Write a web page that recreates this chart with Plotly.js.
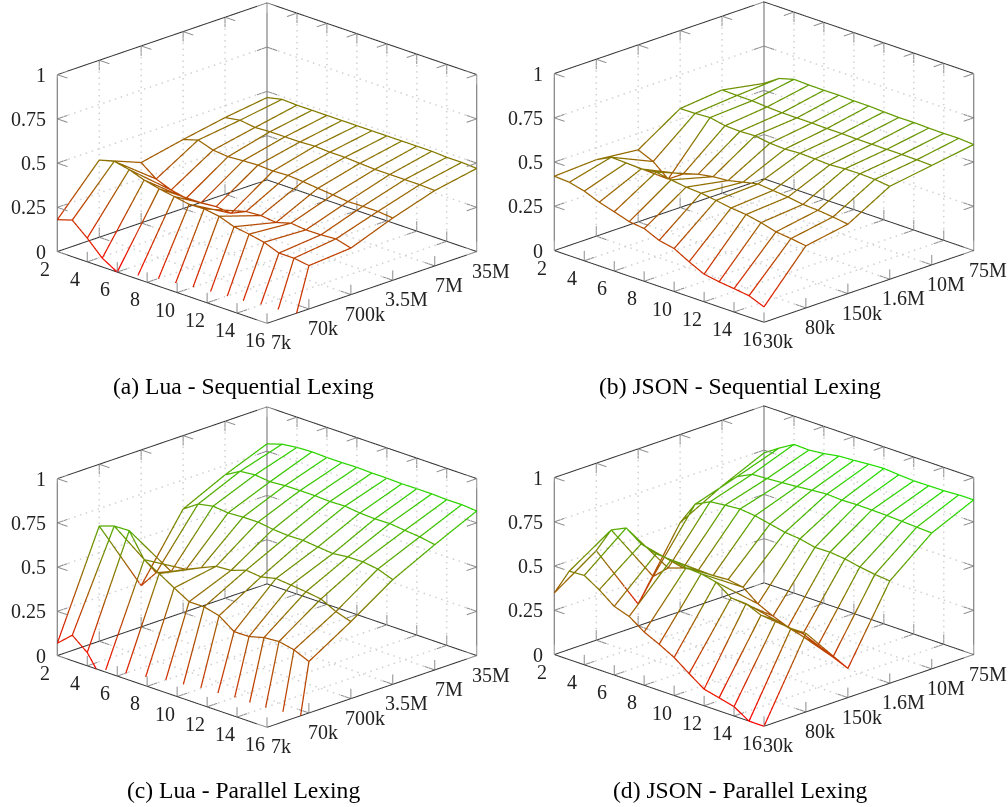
<!DOCTYPE html>
<html><head><meta charset="utf-8">
<script src="https://cdn.plot.ly/plotly-3.0.1.min.js"></script>
<style>html,body{margin:0;padding:0;background:#fff}#g{width:1008px;height:807px}</style>
</head><body><div id="g"></div>
<script>
const threads=[2,3,4,5,6,7,8,9,10,11,12,13,14,15,16];
const xTicks=[2,4,6,8,10,12,14,16];
const zTicks=[0,0.25,0.5,0.75,1];
const zLabels=['0','0.25','0.5','0.75','1'];
const sizeIdx=[0,1,2,3,4,5];
const luaSizes=['7k','70k','700k','3.5M','7M','35M'];
const jsonSizes=['30k','80k','150k','1.6M','10M','75M'];
const luaSeq=[
[.18,.207,.134,.05,0,-.061,-.133,-.173,-.214,-.254,-.287,-.297,-.331,-.43,-.585],
[.436,.458,.44,.41,.39,.375,.36,.363,.35,.32,.307,.29,.258,.258,.245],
[.341,.277,.244,.226,.23,.237,.228,.267,.273,.263,.288,.279,.28,.286,.263],
[.39,.416,.388,.38,.386,.39,.386,.39,.384,.375,.367,.358,.36,.36,.352],
[.433,.447,.435,.44,.44,.44,.445,.44,.44,.435,.43,.43,.43,.43,.426],
[.465,.484,.48,.48,.48,.48,.48,.48,.48,.48,.48,.48,.475,.475,.47]];
const jsonSeq=[
[.42,.415,.394,.36,.335,.308,.298,.26,.243,.197,.156,.142,.132,.121,.087],
[.432,.475,.472,.467,.478,.463,.451,.446,.434,.42,.412,.395,.372,.363,.351],
[.407,.37,.30,.357,.385,.40,.407,.427,.446,.438,.43,.417,.413,.404,.392],
[.559,.561,.566,.549,.546,.55,.537,.533,.538,.535,.531,.537,.538,.535,.525],
[.583,.581,.58,.574,.57,.57,.57,.568,.568,.566,.566,.566,.566,.565,.562],
[.539,.596,.62,.617,.616,.617,.614,.614,.61,.607,.608,.605,.604,.605,.599]];
const luaPar=[
[.07,.144,.075,-.05,-.128,-.213,-.316,-.407,-.482,-.51,-.608,-.652,-.742,-.92,-1.16],
[.651,.68,.683,.548,.498,.446,.397,.397,.376,.315,.316,.339,.346,.328,.291],
[.233,.335,.371,.412,.45,.487,.493,.523,.514,.534,.526,.517,.505,.463,.435],
[.585,.642,.659,.65,.655,.656,.644,.638,.64,.631,.623,.633,.634,.622,.591],
[.697,.746,.755,.745,.752,.753,.753,.749,.752,.742,.738,.74,.731,.723,.708],
[.791,.818,.829,.833,.83,.83,.832,.829,.829,.826,.827,.827,.823,.824,.817]];
const jsonPar=[
[.348,.5,.505,.453,.388,.36,.301,.261,.215,.153,.094,.074,.053,0,0],
[.506,.652,.692,.631,.604,.599,.583,.578,.56,.5,.496,.46,.46,.443,.444],
[.123,.308,.385,.414,.428,.429,.435,.421,.356,.316,.283,.274,.237,.2,.165],
[.502,.635,.678,.688,.695,.686,.668,.65,.642,.623,.625,.616,.599,.586,.578],
[.628,.71,.752,.757,.763,.77,.778,.785,.78,.783,.782,.78,.776,.772,.768],
[.734,.79,.84,.837,.846,.861,.866,.873,.878,.871,.866,.867,.868,.873,.874]];
const panels=[
 {id:'scene', vals:luaSeq, sizes:luaSizes, dom:{x:[0,534],y:[0,370]}, cz:-0.126},
 {id:'scene2',vals:jsonSeq,sizes:jsonSizes,dom:{x:[520,1008],y:[0,370]}, cz:-0.132},
 {id:'scene3',vals:luaPar, sizes:luaSizes, dom:{x:[0,534],y:[404,774]}, cz:-0.126},
 {id:'scene4',vals:jsonPar,sizes:jsonSizes,dom:{x:[520,1008],y:[404,774]}, cz:-0.132}];
const captions=[
 {t:'(a) Lua - Sequential Lexing',x:243,y:386},
 {t:'(b) JSON - Sequential Lexing',x:740,y:386},
 {t:'(c) Lua - Parallel Lexing',x:243,y:790},
 {t:'(d) JSON - Parallel Lexing',x:740,y:790}];
const W=1008,H=807;
const serif='"Liberation Serif", serif';
const xA=2,xB=16,yA=0,yB=5,zA=0,zB=1;
function seg(acc,p,q){acc.x.push(p[0],q[0],null);acc.y.push(p[1],q[1],null);acc.z.push(p[2],q[2],null);}
function dots(acc,p,q,n){for(let k=1;k<n;k++){const t=k/n;acc.x.push(p[0]+(q[0]-p[0])*t);acc.y.push(p[1]+(q[1]-p[1])*t);acc.z.push(p[2]+(q[2]-p[2])*t);}}
function lineTrace(acc,scene,color,width){
 return {type:'scatter3d',mode:'lines',scene:scene,x:acc.x,y:acc.y,z:acc.z,hoverinfo:'skip',showlegend:false,
  connectgaps:false,line:{color:color,width:width}};}
const traces=[];const layout={width:W,height:H,margin:{l:0,r:0,t:0,b:0},paper_bgcolor:'#fff',showlegend:false,annotations:[]};
const tx=.68,ty=.24,tz=.056;
panels.forEach(p=>{
 const sc=p.id;
 const grid={x:[],y:[],z:[]},tickX={x:[],y:[],z:[]},tickY={x:[],y:[],z:[]},tickZ={x:[],y:[],z:[]},frame={x:[],y:[],z:[]},frame2={x:[],y:[],z:[]};
 const nH=36,nV=30;
 xTicks.filter(v=>v!==xA&&v!==xB).forEach(v=>{dots(grid,[v,yA,zA],[v,yB,zA],nH);dots(grid,[v,yB,zA],[v,yB,zB],nV);});
 sizeIdx.filter(v=>v!==yA&&v!==yB).forEach(v=>{dots(grid,[xA,v,zA],[xB,v,zA],nH);dots(grid,[xA,v,zA],[xA,v,zB],nV);});
 zTicks.filter(v=>v!==zA&&v!==zB).forEach(v=>{dots(grid,[xA,yA,v],[xA,yB,v],nH);dots(grid,[xA,yB,v],[xB,yB,v],nH);});
 xTicks.forEach(v=>{
  seg(tickX,[v,yA,zA],[v,yA+ty,zA]);seg(tickX,[v,yA,zA],[v,yA,zA+tz]);
  seg(tickX,[v,yB,zA],[v,yB-ty,zA]);seg(tickX,[v,yB,zA],[v,yB,zA+tz]);
  seg(tickX,[v,yB,zB],[v,yB-ty,zB]);seg(tickX,[v,yB,zB],[v,yB,zB-tz]);
 });
 sizeIdx.forEach(v=>{
  seg(tickY,[xB,v,zA],[xB-tx,v,zA]);seg(tickY,[xB,v,zA],[xB,v,zA+tz]);
  seg(tickY,[xA,v,zA],[xA+tx,v,zA]);seg(tickY,[xA,v,zA],[xA,v,zA+tz]);
  seg(tickY,[xA,v,zB],[xA+tx,v,zB]);seg(tickY,[xA,v,zB],[xA,v,zB-tz]);
 });
 zTicks.forEach(v=>{
  seg(tickZ,[xA,yA,v],[xA+tx,yA,v]);seg(tickZ,[xA,yA,v],[xA,yA+ty,v]);
  seg(tickZ,[xB,yB,v],[xB-tx,yB,v]);seg(tickZ,[xB,yB,v],[xB,yB-ty,v]);
  seg(tickZ,[xA,yB,v],[xA+tx,yB,v]);seg(tickZ,[xA,yB,v],[xA,yB-ty,v]);
 });
 seg(frame,[xA,yA,zA],[xB,yA,zA]);seg(frame,[xB,yA,zA],[xB,yB,zA]);
 seg(frame,[xA,yA,zA],[xA,yB,zA]);seg(frame,[xA,yB,zA],[xB,yB,zA]);
 seg(frame,[xA,yA,zB],[xA,yB,zB]);seg(frame,[xA,yB,zB],[xB,yB,zB]);
 seg(frame2,[xA,yA,zA],[xA,yA,zB]);seg(frame2,[xB,yB,zA],[xB,yB,zB]);seg(frame2,[xA,yB,zA],[xA,yB,zB]);
 traces.push({type:'scatter3d',mode:'markers',scene:sc,x:grid.x,y:grid.y,z:grid.z,hoverinfo:'skip',showlegend:false,
  marker:{size:1,color:'#d2d2d2',symbol:'circle',line:{width:0}}});
 traces.push(lineTrace(frame,sc,'#333333',2));
 traces.push(lineTrace(frame2,sc,'#666666',2));
 traces.push(lineTrace(tickX,sc,'#8c8c8c',2));
 traces.push(lineTrace(tickY,sc,'#8c8c8c',2));
 traces.push(lineTrace(tickZ,sc,'#8c8c8c',2));
 const cs=[[0,'rgb(255,0,0)'],[1,'rgb(0,255,0)']];
 p.vals.forEach((row,j)=>{
  traces.push({type:'scatter3d',mode:'lines',scene:sc,x:threads,y:threads.map(()=>j),z:row,hoverinfo:'skip',showlegend:false,
   line:{color:row,colorscale:cs,cmin:0,cmax:1,width:2.5,showscale:false}});
 });
 threads.forEach((t,i)=>{
  const col=p.vals.map(r=>r[i]);
  traces.push({type:'scatter3d',mode:'lines',scene:sc,x:sizeIdx.map(()=>t),y:sizeIdx,z:col,hoverinfo:'skip',showlegend:false,
   line:{color:col,colorscale:cs,cmin:0,cmax:1,width:2.5,showscale:false}});
 });
 const ann=[];const f={family:serif,size:20,color:'#222'};
 xTicks.forEach(v=>ann.push({x:v,y:yA,z:zA,text:String(v),showarrow:false,xanchor:'center',yanchor:'middle',xshift:-12,yshift:-17,font:f}));
 sizeIdx.forEach(v=>ann.push({x:xB,y:v,z:zA,text:p.sizes[v],showarrow:false,xanchor:'center',yanchor:'middle',xshift:14,yshift:-19,font:f}));
 zTicks.forEach((v,k)=>ann.push({x:xA,y:yA,z:v,text:zLabels[k],showarrow:false,xanchor:'right',yanchor:'middle',xshift:-9,yshift:0,font:f}));
 const ax=(r)=>({range:r,showgrid:false,showticklabels:false,ticks:'',showline:false,zeroline:false,showbackground:false,showspikes:false,title:{text:''},autorange:false});
 layout[sc]={
  domain:{x:[p.dom.x[0]/W,p.dom.x[1]/W],y:[1-p.dom.y[1]/H,1-p.dom.y[0]/H]},
  aspectmode:'manual',aspectratio:{x:1.6076,y:1.6076,z:1.020},
  camera:{eye:{x:1.661,y:-1.661,z:.855+p.cz},center:{x:0,y:0,z:p.cz},up:{x:0,y:0,z:1},projection:{type:'orthographic'}},
  xaxis:ax([xA-.02,xB+.02]),yaxis:ax([yA-.007,yB+.007]),zaxis:ax([zA-.001,zB+.001]),annotations:ann,dragmode:false,bgcolor:'rgba(0,0,0,0)'};
});
captions.forEach(c=>layout.annotations.push({xref:'paper',yref:'paper',x:c.x/W,y:1-c.y/H,text:c.t,showarrow:false,xanchor:'center',yanchor:'middle',font:{family:serif,size:23.6,color:'#000'}}));
Plotly.newPlot('g',traces,layout,{displayModeBar:false,responsive:false});
</script></body></html>
